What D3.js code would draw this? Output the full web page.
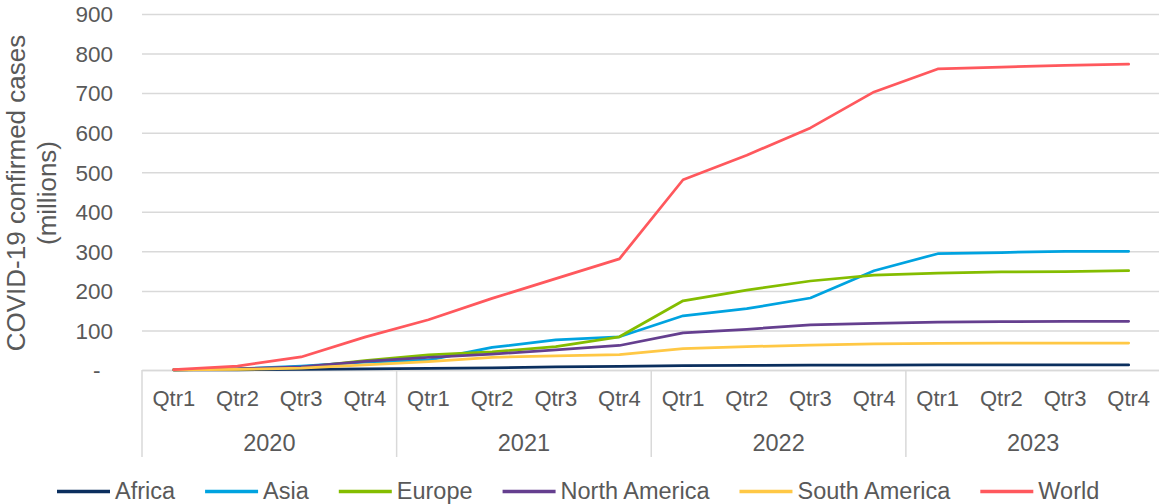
<!DOCTYPE html>
<html>
<head>
<meta charset="utf-8">
<script src="https://cdn.jsdelivr.net/npm/d3@7"></script>
<style>
  html, body { margin: 0; padding: 0; background: #ffffff; }
  svg { display: block; font-family: "Liberation Sans", Arial, sans-serif; }
</style>
</head>
<body>
<svg id="chart" width="1159" height="504"></svg>
<script>
// ---- Data ----
const years = ["2020", "2021", "2022", "2023"];
const quarters = ["Qtr1", "Qtr2", "Qtr3", "Qtr4"];
const yTickValues = [0, 100, 200, 300, 400, 500, 600, 700, 800, 900];
const yTickLabels = ["-\u00a0\u00a0", "100", "200", "300", "400", "500", "600", "700", "800", "900"];
const seriesNames = ["Africa", "Asia", "Europe", "North America", "South America", "World"];
const seriesColors = ["#0b2f5e", "#00a3e0", "#84bd00", "#653f8f", "#ffc845", "#ff585d"];

const africa       = [0.005, 0.4, 1.5, 2.8, 4.2, 5.3, 7.9, 9.0, 11.3, 11.9, 12.3, 12.6, 12.8, 12.8, 12.8, 12.8];
const asia         = [0.1, 2.6, 10, 20, 25, 57, 76, 84, 137, 155, 182, 251, 294, 297, 300, 300];
const europe       = [0.45, 2.5, 6, 24, 38, 46, 59, 84, 175, 202, 225, 240, 245, 248, 249, 251];
const northAmerica = [0.2, 2.8, 8, 22, 32, 40, 51, 62, 94, 103, 114, 118, 121, 122, 123, 123];
const southAmerica = [0.01, 1.5, 5, 13, 21, 32, 36, 39, 54, 59, 63, 66, 67, 68, 68, 68];
const world        = [0.8, 10, 33, 83, 127, 181, 231, 281, 481, 543, 612, 703, 761, 766, 770, 773];
const seriesValues = [africa, asia, europe, northAmerica, southAmerica, world];

// ---- Layout ----
(function () {
const svg = d3.select("#chart");
const pLeft = 142, pRight = 1160.5, pTop = 14, pBottom = 370;
const textColor = "#595959", gridColor = "#d9d9d9";

const keys = [];
years.forEach(yr => quarters.forEach(q => keys.push(yr + "|" + q)));

const x = d3.scaleBand().domain(keys).range([pLeft, pRight]).padding(0);
const xYear = d3.scaleBand().domain(years).range([pLeft, pRight]).padding(0);
const y = d3.scaleLinear().domain([0, 900]).range([pBottom, pTop]);

// Gridlines + y tick labels
const yAxis = d3.axisLeft(y)
  .tickValues(yTickValues)
  .tickSize(-(pRight - pLeft))
  .tickPadding(29)
  .tickFormat((d, i) => yTickLabels[i]);
const gy = svg.append("g").attr("transform", `translate(${pLeft},0)`).call(yAxis);
gy.select(".domain").remove();
gy.selectAll(".tick line").attr("stroke", gridColor).attr("stroke-width", 1.5);
gy.selectAll(".tick text")
  .attr("fill", textColor)
  .style("font-size", "22.5px")
  .attr("dy", "0.35em");

// x axis: quarters
const xAxis = d3.axisBottom(x).tickSize(0).tickPadding(0)
  .tickFormat(k => k.split("|")[1]);
const gx = svg.append("g").attr("transform", `translate(0,${pBottom})`).call(xAxis);
gx.select(".domain").attr("stroke", gridColor).attr("stroke-width", 1.5);
gx.selectAll(".tick text")
  .attr("fill", textColor)
  .style("font-size", "22px")
  .attr("y", 36).attr("dy", 0);

// year labels
svg.append("g").selectAll("text").data(years).join("text")
  .attr("x", d => xYear(d) + xYear.bandwidth() / 2)
  .attr("y", 451)
  .attr("text-anchor", "middle")
  .attr("fill", textColor)
  .style("font-size", "23.5px")
  .text(d => d);

// year separators
const sepX = years.map(d => xYear(d)).concat([pRight]);
svg.append("g").selectAll("line").data(sepX).join("line")
  .attr("x1", d => d).attr("x2", d => d)
  .attr("y1", pBottom).attr("y2", 457)
  .attr("stroke", gridColor).attr("stroke-width", 1.5);

// Lines
const line = d3.line()
  .x((d, i) => x(keys[i]) + x.bandwidth() / 2)
  .y(d => y(d));
svg.append("g").selectAll("path").data(seriesValues).join("path")
  .attr("d", d => line(d))
  .attr("fill", "none")
  .attr("stroke", (d, i) => seriesColors[i])
  .attr("stroke-width", 2.75)
  .attr("stroke-linejoin", "round")
  .attr("stroke-linecap", "round");

// Y axis title
const yt = svg.append("text")
  .attr("transform", `translate(25,193) rotate(-90)`)
  .attr("text-anchor", "middle")
  .attr("fill", textColor)
  .style("font-size", "26px");
yt.append("tspan").attr("x", 0).attr("y", 0).text("COVID-19 confirmed cases");
yt.append("tspan").attr("x", 0).attr("y", 31).text("(millions)");

// Legend
const legend = svg.append("g");
let lx = 57;
const ly = 491.5;
seriesNames.forEach((name, i) => {
  legend.append("line")
    .attr("x1", lx).attr("x2", lx + 53)
    .attr("y1", ly).attr("y2", ly)
    .attr("stroke", seriesColors[i]).attr("stroke-width", 3.5);
  const t = legend.append("text")
    .attr("x", lx + 58).attr("y", 499)
    .attr("fill", textColor)
    .style("font-size", "23.5px")
    .text(name);
  const w = t.node().getComputedTextLength();
  lx = lx + 58 + w + 30;
});
})();
</script>
</body>
</html>
